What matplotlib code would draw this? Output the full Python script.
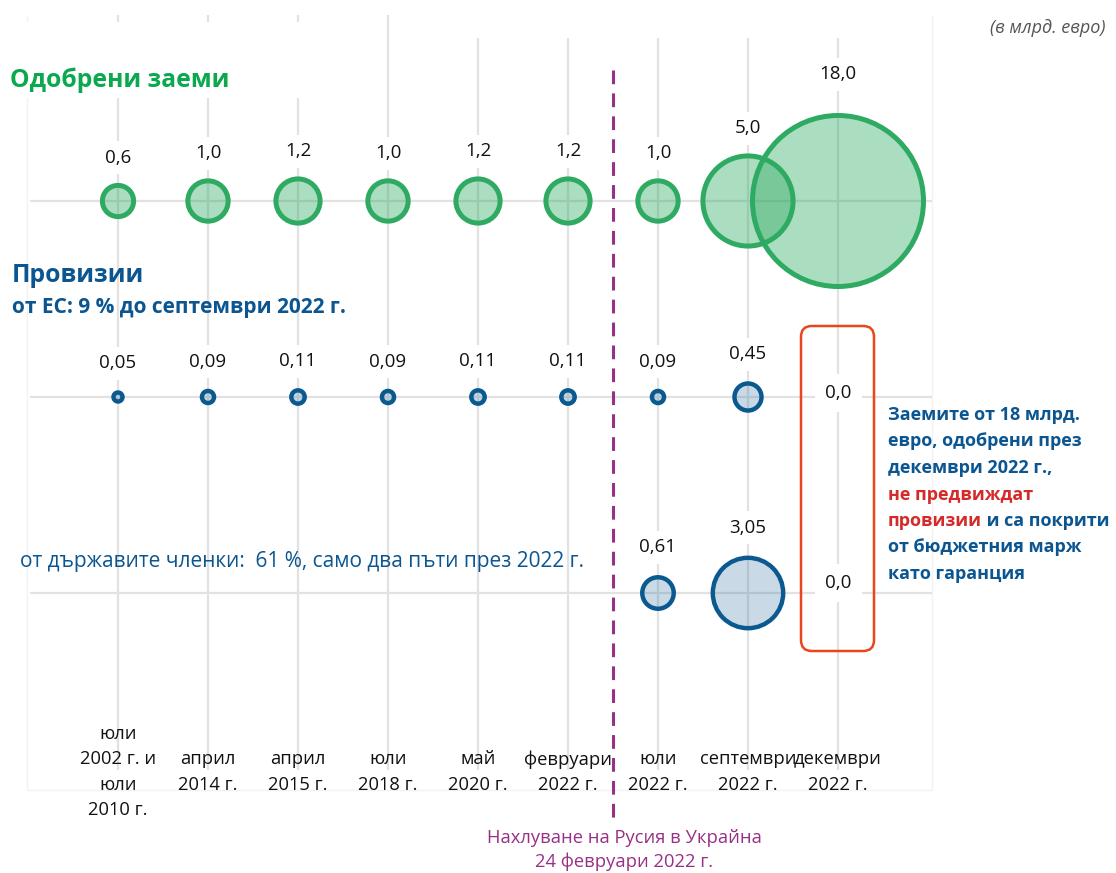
import numpy as np
import matplotlib
matplotlib.use("Agg")
import matplotlib.pyplot as plt
from matplotlib.patches import FancyBboxPatch, Rectangle

plt.rcParams['font.family'] = ['Open Sans', 'DejaVu Sans']

# data (billion euro)
periods = ["юли\n2002 г. и\nюли\n2010 г.", "април\n2014 г.", "април\n2015 г.", "юли\n2018 г.",
           "май\n2020 г.", "февруари\n2022 г.", "юли\n2022 г.", "септември\n2022 г.", "декември\n2022 г."]
loans = [0.6, 1.0, 1.2, 1.0, 1.2, 1.2, 1.0, 5.0, 18.0]
loan_labels = ["0,6", "1,0", "1,2", "1,0", "1,2", "1,2", "1,0", "5,0", "18,0"]
prov_eu = [0.05, 0.09, 0.11, 0.09, 0.11, 0.11, 0.09, 0.45]
prov_eu_labels = ["0,05", "0,09", "0,11", "0,09", "0,11", "0,11", "0,09", "0,45"]
prov_ms_idx = [6, 7]
prov_ms = [0.61, 3.05]
prov_ms_labels = ["0,61", "3,05"]

GREEN = "#2eaa62"
GREEN_T = "#0aa84f"
BLUE = "#0b5a8f"
BLUE_T = "#0b5590"
RED = "#d42a2a"
BOX = "#e8461e"
PURPLE = "#983086"
GRID = "#e2e2e2"

W, H = 1116, 873
X0, DX = 118, 90      # column 0 at 118 px, 90 px apart
Y0, DY = 201, 196     # row 0 at 201 px, 196 px apart

fig = plt.figure(figsize=(W / 100, H / 100), dpi=100)
ax = fig.add_axes([0, 0, 1, 1])
ax.set_xlim(-X0 / DX, (W - X0) / DX)
ax.set_ylim((H - Y0) / DY, -Y0 / DY)
ax.axis('off')
# overlay in pixel units for free text
px = fig.add_axes([0, 0, 1, 1], facecolor='none')
px.set_xlim(0, W)
px.set_ylim(H, 0)
px.axis('off')

def ry(p):
    return (p - Y0) / DY

def rx(p):
    return (p - X0) / DX

cols = np.arange(len(periods))

# faint frame and grid
ax.vlines([rx(27), rx(932)], ry(15), ry(790), color="#f2f2f2", lw=1, zorder=0)
ax.hlines(ry(790), rx(27), rx(932), color="#f2f2f2", lw=1, zorder=0)
ax.vlines(cols[:4], ry(15), ry(770), color=GRID, lw=1.6, zorder=1)
ax.vlines(cols[4:], ry(38), ry(770), color=GRID, lw=1.6, zorder=1)
ax.hlines([0, 1, 2], rx(30), rx(932), color=GRID, lw=1.6, zorder=1)
# white area behind the first title
ax.add_patch(Rectangle((rx(0), ry(22)), rx(345) - rx(0), ry(98) - ry(22),
                       facecolor='white', edgecolor='none', zorder=1.5))

K = 842  # marker area per billion (points^2)

def bubbles(xs, row, vals, labels, edge, face, lw, gap):
    vals = np.array(vals)
    ax.scatter(xs, np.full(len(xs), row), s=K * vals, facecolor=face, edgecolor=edge,
               linewidth=lw, zorder=3)
    for x, v, lab in zip(xs, vals, labels):
        r_out = 20.15 * np.sqrt(v) + lw / 0.72 / 2
        extra = 14 if v > 10 else 0
        ax.text(x, row - (r_out + gap + extra) / DY, lab, ha='center', va='center',
                fontsize=13.5, color='#111111', zorder=4,
                bbox=dict(boxstyle='square,pad=0.4', fc='white', ec='none'))

bubbles(cols, 0, loans, loan_labels, GREEN, (0.18, 0.667, 0.384, 0.4), 3.6, 25)
bubbles(cols[:len(prov_eu)], 1, prov_eu, prov_eu_labels, BLUE, (0.043, 0.353, 0.561, 0.22), 3.2, 27)
bubbles(prov_ms_idx, 2, prov_ms, prov_ms_labels, BLUE, (0.043, 0.353, 0.561, 0.22), 3.2, 28)

# zero values in December 2022
for row, dy in [(1, -4), (2, -10)]:
    ax.text(8, row + dy / DY, "0,0", ha='center', va='center', fontsize=13.5, color='#111111',
            zorder=4, bbox=dict(boxstyle='square,pad=0.55', fc='white', ec='none'))

ax.add_patch(FancyBboxPatch((rx(801), ry(326)), rx(874) - rx(801), ry(651) - ry(326),
                            boxstyle='round,pad=0,rounding_size=0.12', mutation_aspect=DX / DY,
                            facecolor='none', edgecolor=BOX, lw=1.8, zorder=5))

# invasion marker
ax.vlines(5.5, ry(70), ry(820), color=PURPLE, lw=2.2, linestyles=(0, (4.5, 3)), zorder=2)
px.text(624, 850, "Нахлуване на Русия в Украйна\n24 февруари 2022 г.", ha='center', va='center',
        fontsize=13.2, color=PURPLE, linespacing=1.35)

# x category labels
for c, lab in zip(cols, periods):
    ax.text(c, ry(772), lab, ha='center', va='center', fontsize=13.2, color='#111111',
            linespacing=1.52, zorder=4)

# titles
px.text(10, 80, "Одобрени заеми", fontsize=17.8, fontweight='bold', color=GREEN_T, va='center', zorder=6)
px.text(12, 276, "Провизии", fontsize=17.8, fontweight='bold', color=BLUE_T, va='center')
px.text(12, 308, "от ЕС: 9 % до септември 2022 г.", fontsize=15, fontweight='bold', color=BLUE_T, va='center')
px.text(20, 561, "от държавите членки:  61 %, само два пъти през 2022 г.", fontsize=15,
        color=BLUE_T, va='center')
px.text(1105, 28, "(в млрд. евро)", fontsize=13, style='italic', color='#555555', ha='right', va='center')

# note on the right
FS = 13
note = [("Заемите от 18 млрд.", BLUE_T), ("евро, одобрени през", BLUE_T),
        ("декември 2022 г.,", BLUE_T), ("не предвиждат", RED)]
yy = 415
for s, c in note:
    px.text(888, yy, s, fontsize=FS, fontweight='bold', color=c, va='center')
    yy += 26.5
t_red = px.text(888, yy, "провизии", fontsize=FS, fontweight='bold', color=RED, va='center')
px.annotate(" и са покрити", xy=(1, 0.5), xycoords=t_red, fontsize=FS, fontweight='bold',
            color=BLUE_T, va='center', ha='left')
yy += 26.5
for s in ["от бюджетния марж", "като гаранция"]:
    px.text(888, yy, s, fontsize=FS, fontweight='bold', color=BLUE_T, va='center')
    yy += 26.5

fig.savefig("out.png", dpi=100)
